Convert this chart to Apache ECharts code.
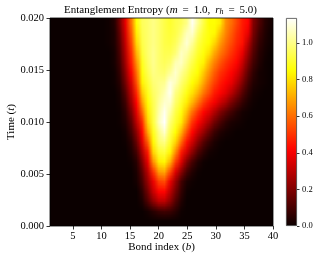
<!DOCTYPE html>
<html>
<head>
<meta charset="utf-8">
<style>html,body{margin:0;padding:0;background:#fff}#c{width:319px;height:261px}</style>
<script src="https://cdn.jsdelivr.net/npm/echarts@6/dist/echarts.min.js"></script>
</head>
<body>
<div id="c"></div>
<script>
const bondCount = 40;
const xTicks = [5, 10, 15, 20, 25, 30, 35, 40];
const yTicks = [0, 0.005, 0.01, 0.015, 0.02];
const cbTicks = [0, 0.2, 0.4, 0.6, 0.8, 1.0];
const vMax = 1.137;
// each row: [first non-zero bond]; bonds outside are 0
const t000 = [20, [0]];
const t001 = [18, [.02,.05,.08,.09,.08,.05,.01]];
const t002 = [17, [.03,.12,.22,.3,.3,.22,.12,.04]];
const t003 = [17, [.06,.18,.32,.42,.42,.3,.18,.07,.01]];
const t004 = [16, [.02,.1,.24,.38,.52,.54,.38,.24,.1,.03,.01]];
const t005 = [16, [.03,.14,.3,.5,.68,.7,.54,.36,.22,.1,.04,.01]];
const t006 = [15, [.01,.05,.2,.38,.66,.82,.84,.72,.52,.36,.2,.1,.04,.01]];
const t007 = [15, [.03,.1,.28,.46,.78,.9,.92,.84,.66,.46,.34,.22,.12,.06,.02,.01]];
const t008 = [14, [.01,.05,.16,.36,.58,.84,.97,1.0,.9,.78,.6,.44,.33,.22,.13,.07,.03,.01]];
const t009 = [14, [.02,.09,.22,.42,.7,.88,1.0,1.08,.94,.85,.72,.55,.42,.32,.24,.15,.08,.04,.02,.01]];
const t010 = [13, [.01,.04,.13,.3,.48,.78,.92,1.06,1.14,.98,.9,.82,.66,.5,.42,.34,.26,.17,.11,.06,.03,.02,.01]];
const t011 = [13, [.01,.06,.18,.36,.58,.82,.93,1.04,1.12,1.03,.93,.86,.74,.6,.5,.42,.36,.28,.2,.14,.09,.05,.02,.01]];
const t012 = [13, [.02,.09,.24,.42,.68,.85,.94,1.02,1.08,1.08,.97,.9,.82,.72,.62,.52,.45,.4,.33,.27,.19,.13,.07,.03,.01]];
const t013 = [13, [.03,.13,.29,.48,.76,.88,.96,1.0,1.05,1.12,1.0,.94,.87,.8,.72,.62,.54,.46,.42,.37,.3,.22,.13,.06,.02,.01]];
const t014 = [12, [.01,.05,.18,.34,.55,.83,.91,.98,1.0,1.01,1.1,1.06,.98,.92,.85,.8,.7,.6,.52,.46,.42,.38,.3,.2,.1,.04,.02,.01]];
const t015 = [12, [.01,.07,.22,.4,.6,.86,.94,1.0,.98,.97,1.02,1.08,1.02,.96,.89,.85,.76,.66,.57,.5,.46,.42,.36,.26,.14,.06,.02,.01]];
const t016 = [12, [.02,.09,.26,.45,.66,.88,.96,1.01,.97,.95,.97,1.05,1.07,1.0,.93,.87,.83,.72,.63,.56,.5,.46,.42,.32,.19,.09,.04,.01]];
const t017 = [12, [.02,.11,.29,.48,.72,.91,.97,1.01,.97,.94,.94,.98,1.07,1.04,.97,.9,.86,.8,.7,.62,.56,.5,.45,.38,.24,.12,.05,.02]];
const t018 = [11, [.01,.03,.13,.32,.52,.78,.93,.97,1.0,.97,.93,.92,.95,1.02,1.09,1.02,.93,.88,.85,.78,.68,.6,.54,.48,.44,.3,.15,.07,.03,.01]];
const t019 = [11, [.01,.03,.15,.35,.56,.82,.94,.97,1.0,.97,.93,.91,.93,.98,1.06,1.08,.97,.9,.86,.84,.74,.64,.57,.5,.45,.38,.18,.09,.04,.01]];
const t020 = [11, [.01,.04,.18,.38,.6,.85,.95,.97,1.0,.97,.93,.9,.93,.95,1.0,1.12,1.02,.93,.85,.85,.82,.66,.6,.53,.46,.42,.2,.12,.05,.02]];
const rowsBottomUp = [t000,t001,t002,t003,t004,t005,t006,t007,t008,t009,t010,t011,t012,t013,t014,t015,t016,t017,t018,t019,t020];
const timeStep = 0.001;

function hot(v) {
  const x = Math.max(0, Math.min(1, v / vMax));
  const r = x < 0.365 ? 0.0416 + (1 - 0.0416) * x / 0.365 : 1;
  const g = x < 0.365 ? 0 : x < 0.746 ? (x - 0.365) / (0.746 - 0.365) : 1;
  const b = x < 0.746 ? 0 : (x - 0.746) / (1 - 0.746);
  return [r * 255, g * 255, b * 255].map(Math.round);
}
const cells = [];
rowsBottomUp.forEach((row, j) => {
  for (let b = 1; b <= bondCount; b++) {
    const v = row[1][b - row[0]] || 0;
    cells.push([b, j * timeStep, v]);
  }
});
// one source pixel per data cell; the canvas smooths it as imshow's bilinear would
const src = document.createElement('canvas');
src.width = bondCount; src.height = rowsBottomUp.length;
const sctx = src.getContext('2d');
cells.forEach(c => {
  const rgb = hot(c[2]);
  sctx.fillStyle = `rgb(${rgb[0]},${rgb[1]},${rgb[2]})`;
  sctx.fillRect(c[0] - 1, rowsBottomUp.length - 1 - Math.round(c[1] / timeStep), 1, 1);
});
const serif = '"Liberation Serif","Times New Roman",serif';
const cbStops = [];
for (let i = 0; i <= 40; i++) {
  const rgb = hot(vMax * i / 40);
  cbStops.push({offset: 1 - i / 40, color: `rgb(${rgb[0]},${rgb[1]},${rgb[2]})`});
}
const rich = {
  i: {fontFamily: serif, fontStyle: 'italic', fontSize: 11, color: '#000'},
  s: {fontFamily: serif, fontStyle: 'italic', fontSize: 8, color: '#000', verticalAlign: 'bottom', padding: [4, 0, 0, 0]}
};
const chart = echarts.init(document.getElementById('c'), null, {renderer: 'canvas'});
chart.setOption({
  animation: false,
  backgroundColor: '#fff',
  title: {
    text: 'Entanglement Entropy ({i|m}\u2009 = \u20091.0,\u2009 {i|r}{s|h}\u2009 = \u20095.0)',
    left: 160.5, top: 0, textAlign: 'center', padding: [4, 0, 0, 0],
    textStyle: {fontFamily: serif, fontSize: 11, fontWeight: 'normal', color: '#000', rich, lineHeight: 12}
  },
  grid: [
    {left: 50, top: 18, width: 223, height: 208, outerBoundsMode: 'none'},
    {left: 286, top: 18, width: 11, height: 208, outerBoundsMode: 'none'}
  ],
  xAxis: [{
    gridIndex: 0, type: 'value', min: 1, max: 40,
    name: 'Bond index ({i|b})', nameLocation: 'middle', nameGap: 16, nameMoveOverlap: false,
    nameTextStyle: {fontFamily: serif, fontSize: 11, color: '#000', rich},
    splitLine: {show: false}, axisLine: {show: false},
    axisTick: {show: true, length: 3.5, lineStyle: {color: '#000', width: 0.8}, customValues: xTicks},
    axisLabel: {customValues: xTicks, fontFamily: serif, fontSize: 10.5, color: '#000', margin: 5}
  }, {
    gridIndex: 1, type: 'category', data: ['c'], show: false
  }],
  yAxis: [{
    gridIndex: 0, type: 'value', min: 0, max: 0.02,
    name: 'Time ({i|t})', nameLocation: 'middle', nameGap: 33, nameRotate: 90, nameMoveOverlap: false,
    nameTextStyle: {fontFamily: serif, fontSize: 11, color: '#000', rich},
    splitLine: {show: false}, axisLine: {show: false},
    axisTick: {show: true, length: 3.5, lineStyle: {color: '#000', width: 0.8}, customValues: yTicks},
    axisLabel: {customValues: yTicks, formatter: v => v.toFixed(3), fontFamily: serif, fontSize: 10.5, color: '#000', margin: 6}
  }, {
    gridIndex: 1, type: 'value', min: 0, max: vMax, position: 'right',
    splitLine: {show: false}, axisLine: {show: false},
    axisTick: {show: true, length: 2.5, lineStyle: {color: '#000', width: 0.8}, customValues: cbTicks},
    axisLabel: {customValues: cbTicks, formatter: v => v.toFixed(1), fontFamily: serif, fontSize: 8.5, color: '#000', margin: 5}
  }],
  series: [{
    type: 'custom',
    xAxisIndex: 0, yAxisIndex: 0,
    coordinateSystem: 'cartesian2d',
    encode: {x: 0, y: 1},
    data: cells,
    clip: false,
    renderItem(params, api) {
      if (params.dataIndex !== 0) return null;
      const p0 = api.coord([1, 0.02]);
      const p1 = api.coord([40, 0]);
      const w = p1[0] - p0[0], h = p1[1] - p0[1];
      return {
        type: 'group',
        children: [
          {type: 'image', style: {image: src, x: p0[0], y: p0[1], width: w, height: h}},
          {type: 'rect', shape: {x: p0[0], y: p0[1], width: w, height: h},
           style: {fill: 'none', stroke: '#000', lineWidth: 0.8}}
        ]
      };
    }
  }, {
    type: 'bar',
    xAxisIndex: 1, yAxisIndex: 1,
    data: [vMax],
    barWidth: '100%',
    silent: true,
    itemStyle: {
      color: new echarts.graphic.LinearGradient(0, 0, 0, 1, cbStops),
      borderColor: '#444', borderWidth: 0.8
    }
  }]
});
</script>
</body>
</html>
